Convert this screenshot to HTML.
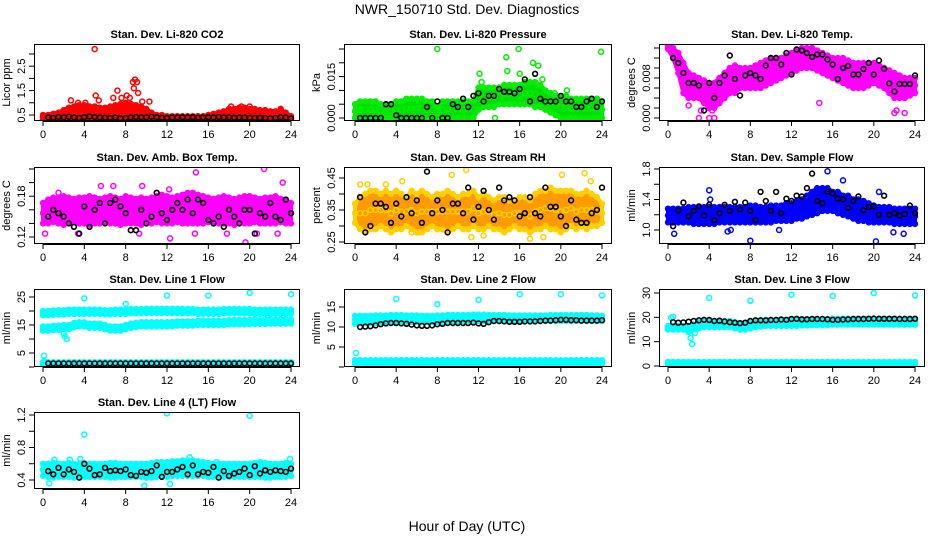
<!DOCTYPE html>
<html><head><meta charset="utf-8"><title>NWR_150710 Std. Dev. Diagnostics</title>
<style>
html,body{margin:0;padding:0;background:#fff;}
svg{display:block;font-family:"Liberation Sans",Arial,sans-serif;}
</style></head>
<body>
<svg id="chart" width="936" height="540" viewBox="0 0 936 540" xmlns="http://www.w3.org/2000/svg">
<text x="467" y="14" text-anchor="middle" font-size="14">NWR_150710  Std. Dev. Diagnostics</text>
<text x="467" y="531" text-anchor="middle" font-size="14">Hour of Day (UTC)</text>
</svg>
<script>
// ---- data ----
const hours = [0,0.5,1,1.5,2,2.5,3,3.5,4,4.5,5,5.5,6,6.5,7,7.5,8,8.5,9,9.5,10,10.5,11,11.5,12,12.5,13,13.5,14,14.5,15,15.5,16,16.5,17,17.5,18,18.5,19,19.5,20,20.5,21,21.5,22,22.5,23,23.5,24];
const blackHours = [0.5,1,1.5,2,2.5,3,3.5,4,4.5,5,5.5,6,6.5,7,7.5,8,8.5,9,9.5,10,10.5,11,11.5,12,12.5,13,13.5,14,14.5,15,15.5,16,16.5,17,17.5,18,18.5,19,19.5,20,20.5,21,21.5,22,22.5,23,23.5,24];
const xTicks = [0,4,8,12,16,20,24];

const co2Lo = [0.33,0.33,0.33,0.33,0.33,0.33,0.33,0.33,0.33,0.33,0.33,0.33,0.33,0.33,0.33,0.33,0.33,0.33,0.33,0.33,0.33,0.33,0.33,0.33,0.33,0.33,0.33,0.33,0.33,0.33,0.33,0.33,0.33,0.33,0.33,0.33,0.33,0.33,0.33,0.33,0.33,0.33,0.33,0.33,0.33,0.33,0.33,0.33,0.33];
const co2Hi = [0.5,0.5,0.55,0.6,0.7,0.8,0.85,0.9,0.9,0.85,0.85,0.8,0.8,0.85,0.9,0.95,1.0,0.95,0.9,0.85,0.75,0.6,0.5,0.5,0.45,0.45,0.45,0.45,0.45,0.45,0.45,0.45,0.5,0.55,0.6,0.65,0.75,0.75,0.8,0.8,0.75,0.75,0.7,0.7,0.65,0.65,0.7,0.6,0.45];
const co2OutX = [5.0,2.7,3.4,4.1,5.1,5.4,6.8,7.2,7.6,8.1,8.4,8.7,8.9,9.1,8.8,9.2,9.6,10.3,18.2,19.2,20,23];
const co2OutY = [3.2,1.1,1.0,1.0,1.3,1.1,1.2,1.5,1.2,1.3,1.2,1.85,1.95,1.85,1.6,1.4,1.05,1.05,0.85,0.85,0.85,0.75];
const co2Black = [0.4,0.38,0.42,0.4,0.43,0.4,0.38,0.41,0.44,0.42,0.4,0.39,0.38,0.4,0.37,0.38,0.4,0.42,0.41,0.4,0.43,0.41,0.39,0.38,0.4,0.4,0.41,0.4,0.41,0.39,0.4,0.41,0.4,0.42,0.4,0.41,0.39,0.4,0.4,0.39,0.38,0.39,0.38,0.36,0.38,0.41,0.4,0.36];

const presLo = [0,0,0,0,0,0,0,0,0,0,0,0,0,0,0,0,0,0,0,0,0,0,0,0,0.003,0.004,0.004,0.004,0.005,0.005,0.005,0.005,0.005,0.005,0.005,0.004,0.004,0.003,0.002,0.001,0,0,0,0,0,0,0,0,0];
const presHi = [0.005,0.006,0.006,0.006,0.006,0.005,0.005,0.005,0.006,0.006,0.007,0.007,0.007,0.007,0.006,0.006,0.004,0.006,0.006,0.006,0.006,0.006,0.006,0.006,0.011,0.011,0.011,0.011,0.011,0.012,0.012,0.012,0.012,0.013,0.013,0.013,0.012,0.010,0.009,0.008,0.008,0.008,0.007,0.007,0.007,0.007,0.007,0.007,0.006];
const presOutX = [8,14.7,15.9,17.3,17.8,14.8,12.1,12.3,16,18.2,23.9,13.6,19.4,20.6];
const presOutY = [0.025,0.022,0.025,0.020,0.019,0.017,0.016,0.013,0.016,0.014,0.024,0.0,0.009,0.010];
const presBlack = [0,0,0,0,0,0.005,0.005,0.001,0,0,0,0,0,0.004,0,0.006,0,0,0.005,0.004,0.007,0.004,0.008,0.009,0.006,0.008,0.008,0.0105,0.0095,0.0095,0.009,0.0105,0.014,0.006,0.016,0.007,0.006,0.006,0.006,0.008,0.006,0.006,0.004,0.004,0.006,0.007,0.004,0.006];

const ltLo = [0.0138,0.012,0.009,0.005,0.004,0.004,0.004,0.003,0.002,0.002,0.003,0.004,0.005,0.005,0.006,0.006,0.006,0.006,0.006,0.0065,0.007,0.0075,0.008,0.0085,0.009,0.0095,0.01,0.01,0.01,0.0095,0.009,0.0085,0.008,0.0075,0.007,0.0065,0.006,0.006,0.006,0.0065,0.007,0.0065,0.006,0.005,0.004,0.004,0.004,0.0045,0.005];
const ltHi = [0.0145,0.014,0.013,0.011,0.009,0.0085,0.008,0.0075,0.007,0.007,0.008,0.009,0.01,0.0105,0.01,0.01,0.01,0.0105,0.011,0.0115,0.012,0.012,0.012,0.0125,0.013,0.0135,0.014,0.014,0.014,0.0135,0.013,0.0125,0.012,0.012,0.012,0.0115,0.011,0.011,0.011,0.011,0.011,0.0105,0.01,0.0095,0.009,0.0085,0.008,0.008,0.008];
const ltOutX = [3,4,4.5,2,3.2,4.3,14.7,22,23,22.2];
const ltOutY = [0,0,0,0.0025,0.0015,0.0015,0.003,0.001,0.001,0.0015];
const ltBlack = [0.012,0.011,0.009,0.007,0.007,0.0065,0.0015,0.007,0.004,0.007,0.0085,0.0125,0.0078,0.0045,0.0085,0.009,0.0085,0.0078,0.0105,0.012,0.012,0.0107,0.013,0.0087,0.0137,0.0135,0.013,0.0122,0.0127,0.0127,0.0117,0.0107,0.0078,0.01,0.0104,0.0087,0.0087,0.0098,0.011,0.0087,0.0115,0.0098,0.0069,0.0053,0.0068,0.0068,0.0068,0.0085];

const abLo = [0.14,0.14,0.142,0.14,0.138,0.14,0.142,0.14,0.14,0.138,0.14,0.14,0.142,0.14,0.14,0.138,0.14,0.14,0.14,0.138,0.14,0.14,0.142,0.14,0.14,0.14,0.142,0.14,0.14,0.14,0.14,0.14,0.142,0.14,0.14,0.14,0.14,0.138,0.14,0.14,0.14,0.142,0.14,0.14,0.14,0.14,0.142,0.14,0.14];
const abHi = [0.17,0.175,0.178,0.178,0.18,0.178,0.176,0.178,0.178,0.18,0.178,0.176,0.178,0.18,0.178,0.176,0.18,0.178,0.176,0.178,0.176,0.178,0.18,0.182,0.18,0.178,0.18,0.182,0.185,0.185,0.182,0.18,0.178,0.176,0.178,0.18,0.178,0.176,0.178,0.18,0.18,0.178,0.176,0.178,0.178,0.18,0.176,0.175,0.17];
const abOutX = [1.5,5.6,6.8,9.6,14.8,21.4,23.2,12.2,0.2,3.4,12.3,19.6,20.7,22.7,9.3,14.7,17.8];
const abOutY = [0.185,0.195,0.195,0.195,0.215,0.22,0.20,0.19,0.125,0.125,0.118,0.112,0.125,0.125,0.125,0.125,0.125];
const abBlack = [0.15,0.16,0.155,0.15,0.14,0.135,0.125,0.165,0.135,0.16,0.17,0.14,0.17,0.175,0.165,0.155,0.13,0.13,0.16,0.14,0.15,0.185,0.155,0.145,0.16,0.17,0.16,0.175,0.155,0.175,0.17,0.145,0.14,0.15,0.135,0.16,0.15,0.14,0.16,0.16,0.125,0.155,0.15,0.17,0.15,0.145,0.175,0.155];

const rhLo = [0.31,0.29,0.28,0.29,0.29,0.3,0.29,0.28,0.29,0.29,0.3,0.29,0.28,0.28,0.29,0.3,0.29,0.29,0.28,0.29,0.3,0.29,0.29,0.3,0.29,0.29,0.3,0.29,0.29,0.28,0.29,0.3,0.29,0.29,0.28,0.29,0.29,0.3,0.29,0.29,0.28,0.29,0.3,0.29,0.3,0.29,0.3,0.3,0.31];
const rhHi = [0.37,0.39,0.4,0.41,0.41,0.4,0.41,0.4,0.41,0.4,0.39,0.41,0.4,0.41,0.4,0.39,0.4,0.4,0.41,0.4,0.39,0.4,0.4,0.41,0.39,0.4,0.39,0.38,0.39,0.39,0.38,0.38,0.39,0.39,0.38,0.4,0.41,0.41,0.42,0.41,0.41,0.41,0.41,0.4,0.4,0.41,0.4,0.39,0.37];
const rhOutX = [0.5,1.2,3,4.6,9.4,10.8,20.1,22.3,22.9,11.3,12.5,17,18.3,5.5,6.2];
const rhOutY = [0.43,0.43,0.43,0.44,0.46,0.475,0.46,0.465,0.44,0.265,0.27,0.26,0.265,0.28,0.28];
const rhBlack = [0.39,0.28,0.30,0.37,0.37,0.36,0.31,0.37,0.33,0.39,0.34,0.38,0.31,0.47,0.34,0.38,0.35,0.28,0.37,0.37,0.34,0.42,0.32,0.36,0.41,0.35,0.32,0.42,0.38,0.39,0.38,0.33,0.34,0.39,0.34,0.33,0.42,0.36,0.36,0.33,0.30,0.38,0.32,0.31,0.31,0.34,0.35,0.42];

const sfLo = [1.1,1.1,1.1,1.1,1.1,1.08,1.08,1.08,1.08,1.08,1.1,1.1,1.1,1.1,1.1,1.1,1.1,1.1,1.1,1.1,1.1,1.12,1.12,1.12,1.12,1.15,1.15,1.18,1.2,1.22,1.25,1.25,1.25,1.22,1.2,1.18,1.15,1.12,1.12,1.1,1.1,1.1,1.1,1.1,1.08,1.08,1.08,1.08,1.08];
const sfHi = [1.28,1.28,1.28,1.28,1.3,1.3,1.3,1.3,1.3,1.3,1.3,1.3,1.3,1.3,1.3,1.3,1.32,1.32,1.3,1.3,1.32,1.32,1.32,1.35,1.35,1.38,1.4,1.45,1.5,1.55,1.55,1.55,1.5,1.5,1.45,1.45,1.4,1.4,1.38,1.35,1.32,1.3,1.3,1.3,1.28,1.28,1.28,1.28,1.28];
const sfOutX = [0.6,8,20.2,15.5,17,4,20.5,5.8,10.8,21.9,22.9,4.1,6.1];
const sfOutY = [0.95,0.86,0.85,1.77,1.65,1.52,1.5,0.98,1.0,0.97,0.95,1.4,1.0];
const sfBlack = [1.05,1.26,1.36,1.18,1.25,1.31,1.19,1.33,1.13,1.22,1.33,1.25,1.37,1.27,1.36,1.25,1.13,1.5,1.38,1.25,1.5,1.22,1.41,1.38,1.45,1.44,1.55,1.74,1.38,1.35,1.5,1.48,1.41,1.4,1.29,1.38,1.44,1.26,1.3,1.31,1.2,1.45,1.2,1.22,1.19,1.21,1.32,1.22];

const lowFlowLo = [0.8,0.8,0.8,0.8,0.8,0.8,0.8,0.8,0.8,0.8,0.8,0.8,0.8,0.8,0.8,0.8,0.8,0.8,0.8,0.8,0.8,0.8,0.8,0.8,0.8,0.8,0.8,0.8,0.8,0.8,0.8,0.8,0.8,0.8,0.8,0.8,0.8,0.8,0.8,0.8,0.8,0.8,0.8,0.8,0.8,0.8,0.8,0.8,0.8];
const lowFlowHi = [1.7,1.7,1.7,1.7,1.7,1.7,1.7,1.7,1.7,1.7,1.7,1.7,1.7,1.7,1.7,1.7,1.7,1.7,1.7,1.7,1.7,1.7,1.7,1.7,1.7,1.7,1.7,1.7,1.7,1.7,1.7,1.7,1.7,1.7,1.7,1.7,1.7,1.7,1.7,1.7,1.7,1.7,1.7,1.7,1.7,1.7,1.7,1.7,1.7];

const l1UpLo = [18.5,18.5,18.7,18.8,18.8,19,19,19,19,19,19,19,18.8,18.8,19,19,19,19.2,19.2,19.2,19.3,19.3,19.3,19.3,19.3,19.3,19.3,19.2,19.2,19.2,19,19,19,19,19,19.2,19.2,19.2,19.2,19.2,19.2,19,19,19,19,19,19,19,19];
const l1UpHi = [20,20,20.2,20.3,20.3,20.5,20.5,20.5,20.5,20.5,20.5,20.5,20.3,20.3,20.5,20.5,20.5,20.7,20.7,20.7,20.8,20.8,20.8,20.8,20.8,20.8,20.8,20.7,20.7,20.7,20.5,20.5,20.5,20.5,20.5,20.7,20.7,20.7,20.7,20.7,20.7,20.5,20.5,20.5,20.5,20.5,20.5,20.5,20.5];
const l1MidLo = [13,13,13.2,13.3,13.5,13.5,14.2,14.5,14.5,14,14,14,13.5,13,13,13,13.5,14,14.3,14.5,14.5,14.5,14.5,14.5,14.5,14.6,14.8,14.8,14.8,14.8,15,15,15,15,15,15,15.2,15.3,15.3,15.3,15.3,15.4,15.4,15.4,15.5,15.5,15.5,15.5,15.5];
const l1MidHi = [14.5,14.5,14.7,14.8,15,15,15.7,16,16,15.5,15.5,15.5,15,14.5,14.5,14.5,15,15.5,15.8,16,16,16,16,16,16,16.1,16.3,16.3,16.3,16.3,16.5,16.5,16.5,16.5,16.5,16.5,16.7,16.8,16.8,16.8,16.8,16.9,16.9,16.9,17,17,17,17,17];
const l1OutX = [4,8,12,16,20,24,2,2.1,2.3,0.1,0.1];
const l1OutY = [24.5,22.5,25.5,25.5,26.5,26,12,11,10,4,2];
const l1Black = [1.3,1.3,1.3,1.3,1.3,1.3,1.3,1.3,1.3,1.3,1.3,1.3,1.3,1.3,1.3,1.3,1.3,1.3,1.3,1.3,1.3,1.3,1.3,1.3,1.3,1.3,1.3,1.3,1.3,1.3,1.3,1.3,1.3,1.3,1.3,1.3,1.3,1.3,1.3,1.3,1.3,1.3,1.3,1.3,1.3,1.3,1.3,1.3];

const l2UpLo = [10.8,11,11,11,11,11.2,11.2,11.3,11.3,11.3,11.3,11.3,11.3,11.3,11.3,11.3,11.3,11.3,11.4,11.4,11.4,11.5,11.5,11.5,11.5,11.5,11.5,11.5,11.5,11.5,11.5,11.5,11.5,11.5,11.5,11.5,11.5,11.5,11.5,11.5,11.5,11.5,11.5,11.5,11.5,11.5,11.5,11.5,11.5];
const l2UpHi = [12.8,12.8,12.8,12.8,12.9,12.9,12.9,13,13,13,12.9,12.9,12.9,12.8,12.8,12.8,12.9,12.9,13,13,13,13,13,13.1,13.1,13.1,13,13,13,13,12.9,12.9,12.9,12.9,12.9,12.9,12.9,12.9,13,13,13,13,13,13,13,13,12.9,12.9,12.8];
const l2OutX = [4,8,12,16,20,24,0.1,0.1];
const l2OutY = [17,15.7,16.8,18.2,18.2,17.9,3.5,11];
const l2Black = [10,10.1,10.2,10.4,10.7,10.9,11,11,10.9,10.8,10.6,10.4,10.3,10.3,10.4,10.7,10.8,11,11,11,11,11,11.1,10.9,10.8,11.2,11.5,11.5,11.4,11.3,11.3,11.3,11.4,11.4,11.4,11.5,11.6,11.6,11.7,11.8,11.8,11.7,11.7,11.6,11.6,11.6,11.6,11.7];

const l3UpLo = [15,15,15,15,14.5,15,15.5,16,16,16,16,16,16,15.5,15,15,15.5,16,16.2,16.5,16.5,16.5,16.5,16.5,16.5,16.5,16.7,16.7,16.8,16.8,16.8,16.8,17,17,17,17,17,17,17,17,17,17,17,17,17,17,17,17,17];
const l3UpHi = [16.5,16.5,16.5,16.5,16.5,17,18,18.5,18.5,18.5,18.5,18.5,18.5,18,17.5,17.5,18,18.5,18.7,19,19,19,19,19,19,19,19.2,19.2,19.3,19.3,19.3,19.3,19.5,19.5,19.5,19.5,19.5,19.5,19.5,19.5,19.5,19.5,19.5,19.5,19.5,19.5,19.5,19.5,19.5];
const l3OutX = [0.3,0.5,2,2.2,2.35,2.6,4,8,12,16,20,24];
const l3OutY = [19.8,20.2,14,11.5,9,13.5,28,26.8,29.3,28.8,30,29];
const l3Black = [18,17.8,17.9,18.2,18.5,18.8,19,18.9,18.5,18.6,18.3,18,17.8,17.6,17.8,18.5,18.8,18.8,18.8,18.9,18.9,19.1,19,19.3,19.4,19.2,19.2,19.3,19.3,19.3,19.2,19,19,19.1,19.2,19.3,19.3,19.3,19.4,19.5,19.4,19.4,19.4,19.4,19.3,19.3,19.3,19.4];

const l4Lo = [0.45,0.44,0.43,0.44,0.44,0.44,0.43,0.44,0.44,0.44,0.44,0.44,0.44,0.43,0.43,0.44,0.44,0.44,0.44,0.44,0.43,0.43,0.44,0.44,0.44,0.45,0.45,0.45,0.45,0.45,0.45,0.45,0.44,0.44,0.44,0.44,0.44,0.44,0.44,0.44,0.44,0.44,0.44,0.43,0.43,0.44,0.44,0.44,0.45];
const l4Hi = [0.6,0.6,0.61,0.6,0.6,0.61,0.6,0.6,0.61,0.6,0.6,0.6,0.6,0.61,0.61,0.6,0.6,0.6,0.6,0.6,0.6,0.61,0.62,0.62,0.62,0.63,0.63,0.64,0.64,0.64,0.63,0.62,0.61,0.6,0.6,0.6,0.6,0.6,0.6,0.6,0.6,0.61,0.62,0.61,0.6,0.6,0.6,0.61,0.6];
const l4OutX = [4,12,20,9.8,12.3,0.6,3.6,2.6,14.2,23.9,1.1,16.8];
const l4OutY = [0.96,1.22,1.19,0.33,0.35,0.36,0.66,0.65,0.68,0.66,0.65,0.62];
const l4Black = [0.51,0.47,0.55,0.47,0.53,0.50,0.43,0.60,0.54,0.46,0.47,0.55,0.51,0.52,0.51,0.53,0.46,0.45,0.50,0.49,0.51,0.58,0.44,0.50,0.50,0.53,0.56,0.47,0.58,0.47,0.50,0.49,0.56,0.43,0.51,0.45,0.48,0.50,0.54,0.46,0.57,0.48,0.52,0.50,0.52,0.51,0.50,0.54];

// ---- layout (not data) ----
const colBox = [[34,300,43,291],[344,612,355,602],[659,925,668,915]];
const rowBox = [[44,121],[167,244],[289,367],[412,489]];

const panels = [
 {id:'co2',title:'Stan. Dev. Li-820 CO2',ylab:'Licor ppm',c:0,r:0,ym:[0.5,115,3.0,54],ticks:[0.5,1,1.5,2,2.5,3],lab:['0.5','','1.5','','2.5',''],color:'#ff0000',fill:'#ff0000',bands:[[co2Lo,co2Hi]],ox:co2OutX,oy:co2OutY,by:co2Black},
 {id:'pressure',title:'Stan. Dev. Li-820 Pressure',ylab:'kPa',c:1,r:0,ym:[0,118,0.025,49],ticks:[0,0.005,0.01,0.015,0.02,0.025],lab:['0.000','','','0.015','',''],color:'#00ee00',fill:'#00dd00',bands:[[presLo,presHi]],ox:presOutX,oy:presOutY,by:presBlack},
 {id:'li820-temp',title:'Stan. Dev. Li-820 Temp.',ylab:'degrees C',c:2,r:0,ym:[0,118,0.008,78],ticks:[0,0.002,0.004,0.006,0.008,0.010,0.012,0.014],lab:['0.000','','','','0.008','','',''],color:'#ff00ff',fill:'#ff00ff',bands:[[ltLo,ltHi]],ox:ltOutX,oy:ltOutY,by:ltBlack},
 {id:'amb-box-temp',title:'Stan. Dev. Amb. Box Temp.',ylab:'degrees C',c:0,r:1,ym:[0.12,237,0.22,169],ticks:[0.12,0.14,0.16,0.18,0.20,0.22],lab:['0.12','','','0.18','',''],color:'#ff00ff',fill:'#ff00ff',bands:[[abLo,abHi]],ox:abOutX,oy:abOutY,by:abBlack},
 {id:'gas-rh',title:'Stan. Dev. Gas Stream RH',ylab:'percent',c:1,r:1,ym:[0.25,242,0.45,178],ticks:[0.25,0.30,0.35,0.40,0.45],lab:['0.25','','0.35','','0.45'],color:'#ffd000',fill:'#ff9a00',bands:[[rhLo,rhHi]],ox:rhOutX,oy:rhOutY,by:rhBlack},
 {id:'sample-flow',title:'Stan. Dev. Sample Flow',ylab:'ml/min',c:2,r:1,ym:[1.0,230,1.8,169],ticks:[1.0,1.2,1.4,1.6,1.8],lab:['1.0','','1.4','','1.8'],color:'#0000ff',fill:'#0000ff',bands:[[sfLo,sfHi]],ox:sfOutX,oy:sfOutY,by:sfBlack},
 {id:'line1-flow',title:'Stan. Dev. Line 1 Flow',ylab:'ml/min',c:0,r:2,ym:[5,353,25,297],ticks:[0,5,10,15,20,25],lab:['','5','','15','','25'],color:'#00ffff',fill:'#00ffff',bands:[[l1UpLo,l1UpHi],[l1MidLo,l1MidHi],[lowFlowLo,lowFlowHi]],ox:l1OutX,oy:l1OutY,by:l1Black},
 {id:'line2-flow',title:'Stan. Dev. Line 2 Flow',ylab:'ml/min',c:1,r:2,ym:[5,347,15,307],ticks:[0,5,10,15],lab:['','5','10','15'],color:'#00ffff',fill:'#00ffff',bands:[[l2UpLo,l2UpHi],[lowFlowLo,lowFlowHi]],ox:l2OutX,oy:l2OutY,by:l2Black},
 {id:'line3-flow',title:'Stan. Dev. Line 3 Flow',ylab:'ml/min',c:2,r:2,ym:[0,366,30,293],ticks:[0,10,20,30],lab:['0','10','20','30'],color:'#00ffff',fill:'#00ffff',bands:[[l3UpLo,l3UpHi],[lowFlowLo,lowFlowHi]],ox:l3OutX,oy:l3OutY,by:l3Black},
 {id:'line4-flow',title:'Stan. Dev. Line 4 (LT) Flow',ylab:'ml/min',c:0,r:3,ym:[0.4,480,1.2,415],ticks:[0.4,0.6,0.8,1.0,1.2],lab:['0.4','','0.8','','1.2'],color:'#00ffff',fill:'#00ffff',bands:[[l4Lo,l4Hi]],ox:l4OutX,oy:l4OutY,by:l4Black}
];

const NS = 'http://www.w3.org/2000/svg';
const svg = document.getElementById('chart');
function mk(tag, attrs, parent){
  const e = document.createElementNS(NS, tag);
  for (const k in attrs) e.setAttribute(k, attrs[k]);
  parent.appendChild(e);
  return e;
}

panels.forEach(p => {
  const [L,R,x0,x24] = colBox[p.c];
  const [T,B] = rowBox[p.r];
  const xs = h => x0 + (x24 - x0) * h / 24;
  const ys = v => p.ym[1] + (v - p.ym[0]) * (p.ym[3] - p.ym[1]) / (p.ym[2] - p.ym[0]);

  const g = mk('g', {}, svg);
  
  

  const clip = mk('clipPath', {id:'clip-' + p.id}, g);
  mk('rect', {x:L, y:T, width:R-L, height:B-T}, clip);
  const plot = mk('g', {'clip-path':'url(#clip-' + p.id + ')'}, g);
  
  

  // bands of dense points
  p.bands.forEach((band, bi) => {
    const lo = band[0], hi = band[1];
    const n = Math.min(hours.length, lo.length, hi.length);
    let d = '';
    for (let i = 0; i < n; i++) d += (i ? 'L' : 'M') + xs(hours[i]).toFixed(1) + ',' + ys(hi[i]).toFixed(1);
    for (let i = n - 1; i >= 0; i--) d += 'L' + xs(hours[i]).toFixed(1) + ',' + ys(lo[i]).toFixed(1);
    d += 'Z';
    const area = mk('path', {d:d, fill:p.fill, stroke:p.color, 'stroke-width':4, 'stroke-linejoin':'round'}, plot);
    
    
    for (let i = 0; i < n; i++) {
      [lo[i], hi[i], (lo[i] + hi[i]) / 2].forEach(v => {
        const c = mk('circle', {cx:xs(hours[i]).toFixed(1), cy:ys(v).toFixed(1), r:2.5, fill:'none', stroke:p.color, 'stroke-width':1.4}, plot);
        
        
      });
    }
  });
  // outliers
  for (let i = 0; i < Math.min(p.ox.length, p.oy.length); i++) {
    const c = mk('circle', {cx:xs(p.ox[i]).toFixed(1), cy:ys(p.oy[i]).toFixed(1), r:2.5, fill:'none', stroke:p.color, 'stroke-width':1.5}, plot);
    
    
  }
  // black hourly points
  for (let i = 0; i < Math.min(blackHours.length, p.by.length); i++) {
    const c = mk('circle', {cx:xs(blackHours[i]).toFixed(1), cy:ys(p.by[i]).toFixed(1), r:2.4, fill:'none', stroke:'#000', 'stroke-width':1.6}, plot);
    
    
  }

  // frame
  const frame = mk('rect', {x:L+0.5, y:T+0.5, width:R-L-1, height:B-T-1, fill:'none', stroke:'#000', 'stroke-width':1}, g);
  
  

  // x axis
  const xa = mk('g', {}, g);
  
  
  mk('line', {x1:xs(xTicks[0]), y1:B+0.5, x2:xs(xTicks[xTicks.length-1]), y2:B+0.5, stroke:'#000'}, xa);
  xTicks.forEach(t => {
    mk('line', {x1:xs(t), y1:B, x2:xs(t), y2:B+5, stroke:'#000'}, xa);
    const tx = mk('text', {x:xs(t), y:B+17, 'text-anchor':'middle', 'font-size':11}, xa);
    tx.textContent = String(t);
    
    
  });

  // y axis
  const ya = mk('g', {}, g);
  
  
  mk('line', {x1:L+0.5, y1:ys(p.ticks[0]), x2:L+0.5, y2:ys(p.ticks[p.ticks.length-1]), stroke:'#000'}, ya);
  p.ticks.forEach((t, i) => {
    const y = ys(t);
    mk('line', {x1:L-5, y1:y, x2:L, y2:y, stroke:'#000'}, ya);
    if (p.lab[i]) {
      const tx = mk('text', {x:L-9, y:y, 'text-anchor':'middle', 'font-size':11, transform:'rotate(-90 ' + (L-9) + ' ' + y + ')'}, ya);
      tx.textContent = p.lab[i];
      
      
    }
  });
  const yl = mk('text', {x:L-24, y:(T+B)/2, 'text-anchor':'middle', 'font-size':11, transform:'rotate(-90 ' + (L-24) + ' ' + ((T+B)/2) + ')'}, g);
  yl.textContent = p.ylab;
  
  

  const ti = mk('text', {x:(L+R)/2, y:T-6, 'text-anchor':'middle', 'font-size':11, 'font-weight':'bold'}, g);
  ti.textContent = p.title;
  
  
});
</script>
</body></html>
